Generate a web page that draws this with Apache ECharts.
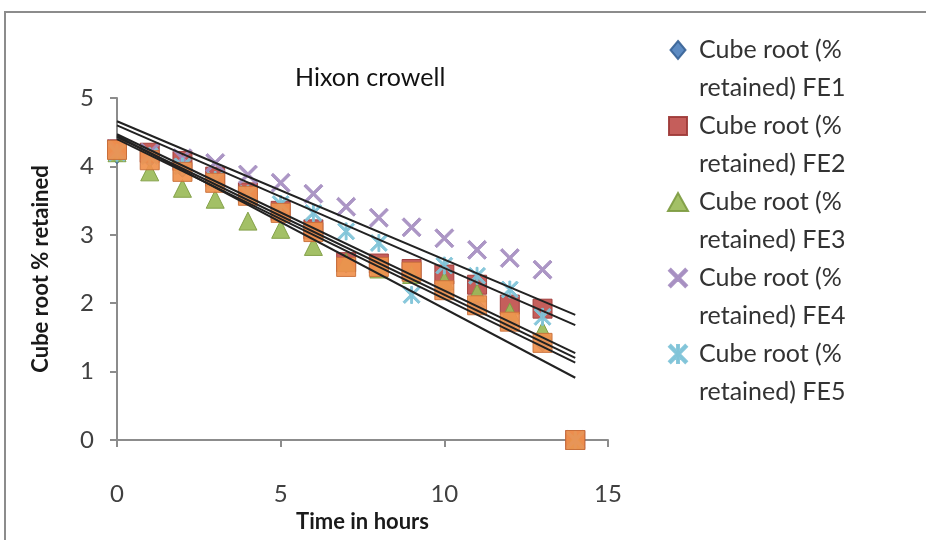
<!DOCTYPE html>
<html>
<head>
<meta charset="utf-8">
<script src="https://cdn.jsdelivr.net/npm/echarts@6/dist/echarts.min.js"></script>
<style>
html,body{margin:0;padding:0;background:#fff;}
#chart{width:926px;height:540px;}
</style>
</head>
<body>
<div id="chart"></div>
<script>
// ---- data ----
const hours = [0, 1, 2, 3, 4, 5, 6, 7, 8, 9, 10, 11, 12, 13, 14];
const fe1 = [4.15, 4.1, 3.95, 3.78, 3.55, 3.3, 3.0, 2.55, 2.5, 2.4, 2.2, 1.95, 1.7, 1.4, 0];
const fe2 = [4.25, 4.2, 4.08, 3.85, 3.62, 3.35, 3.08, 2.6, 2.58, 2.5, 2.42, 2.27, 1.98, 1.92, 0];
const fe3 = [4.2, 3.92, 3.68, 3.52, 3.2, 3.08, 2.83, 2.6, 2.5, 2.42, 2.33, 2.15, 1.87, 1.6, 0];
const fe4 = [4.25, 4.2, 4.12, 4.05, 3.88, 3.76, 3.6, 3.41, 3.25, 3.11, 2.95, 2.78, 2.66, 2.49, 0];
const fe5 = [4.2, 4.15, 4.0, 3.8, 3.6, 3.45, 3.32, 3.05, 2.88, 2.12, 2.55, 2.4, 2.2, 1.8, 0];
const fe6 = [4.24, 4.09, 3.92, 3.76, 3.57, 3.32, 3.04, 2.53, 2.53, 2.46, 2.19, 1.97, 1.73, 1.42, 0];
const seriesNames = [
  'Cube root (% retained) FE1',
  'Cube root (% retained) FE2',
  'Cube root (% retained) FE3',
  'Cube root (% retained) FE4',
  'Cube root (% retained) FE5',
  'Cube root (% retained) FE6'
];
// linear trendlines: value at x = trendX[0] and x = trendX[1]
const trendX = [0, 14];
const trendStart = [4.43, 4.6, 4.4, 4.66, 4.47, 4.45];
const trendEnd = [1.2, 1.68, 1.13, 1.83, 1.27, 0.91];
const xTicks = [0, 5, 10, 15];
const yTicks = [0, 1, 2, 3, 4, 5];

const FONT = 'Lato, "Open Sans", sans-serif';
const xPath = 'path://M0,1L1,0L5,4L9,0L10,1L6,5L10,9L9,10L5,6L1,10L0,9L4,5Z';
const starPath = 'path://M0,1L1,0L5,4L9,0L10,1L6,5L10,9L9,10L5,6L1,10L0,9L4,5ZM4.45,0L5.55,0L5.55,10L4.45,10Z';
const diamondPath = 'path://M5,0L10,6L5,12L0,6Z';
const rectPath = 'path://M0,0L10,0L10,10L0,10Z';
const triPath = 'path://M5,0L10,9L0,9Z';

const styles = [
  {symbol: 'diamond', icon: diamondPath, size: 15, color: '#4F81BD', border: '#3A6497'},
  {symbol: 'rect', icon: rectPath, size: 19, color: '#C0504D', border: '#9E3B38'},
  {symbol: 'triangle', icon: triPath, size: 18, color: '#9BBB59', border: '#7E9C42'},
  {symbol: xPath, icon: xPath, size: 19, color: '#A58DC0', border: '#A58DC0'},
  {symbol: starPath, icon: starPath, size: 17, color: '#7FC3D8', border: '#7FC3D8'},
  {symbol: 'rect', icon: rectPath, size: 19, color: '#F0914D', border: '#C9703A'}
];
const allData = [fe1, fe2, fe3, fe4, fe5, fe6];

const series = [];
allData.forEach((vals, i) => {
  series.push({
    name: seriesNames[i],
    type: 'scatter',
    symbol: styles[i].symbol,
    symbolSize: styles[i].size,
    itemStyle: {color: styles[i].color, borderColor: styles[i].border, borderWidth: 1, opacity: 0.92},
    z: 2 + i,
    data: hours.map((h, k) => [h, vals[k]])
  });
});
trendStart.forEach((s, i) => {
  series.push({
    name: 'Linear (' + seriesNames[i] + ')',
    type: 'line',
    symbol: 'none',
    silent: true,
    z: 20,
    lineStyle: {color: '#222222', width: 2},
    data: [[trendX[0], s], [trendX[1], trendEnd[i]]]
  });
});

const chart = echarts.init(document.getElementById('chart'), null, {renderer: 'canvas'});
chart.setOption({
  animation: false,
  backgroundColor: '#ffffff',
  title: {
    text: 'Hixon crowell',
    left: 290,
    top: 60,
    textStyle: {fontFamily: FONT, fontSize: 25, fontWeight: 'normal', color: '#111111'}
  },
  legend: {
    orient: 'vertical',
    left: 667,
    top: -7,
    padding: 0,
    itemWidth: 32,
    itemHeight: 18,
    itemGap: -38,
    symbolKeepAspect: true,
    data: seriesNames.slice(0, 5).map((n, i) => ({name: n, icon: styles[i].icon})),
    formatter: n => '\n' + n.replace(' retained', '\nretained'),
    textStyle: {fontFamily: FONT, fontSize: 25, lineHeight: 38, color: '#333333'}
  },
  grid: {left: 117, right: 318, top: 98, bottom: 100},
  xAxis: {
    type: 'value',
    min: xTicks[0],
    max: xTicks[xTicks.length - 1],
    interval: 5,
    name: 'Time in hours',
    nameLocation: 'middle',
    nameGap: 70,
    nameTextStyle: {fontFamily: FONT, fontSize: 22, fontWeight: 'bold', color: '#1a1a1a'},
    axisLine: {show: true, onZero: false, lineStyle: {color: '#8c8c8c', width: 2}},
    axisTick: {show: true, inside: false, length: 7, lineStyle: {color: '#8c8c8c', width: 2}},
    axisLabel: {margin: 42, fontFamily: FONT, fontSize: 24, color: '#404040'},
    splitLine: {show: false}
  },
  yAxis: {
    type: 'value',
    min: yTicks[0],
    max: yTicks[yTicks.length - 1],
    interval: 1,
    name: 'Cube root % retained',
    nameLocation: 'middle',
    nameGap: 65,
    nameTextStyle: {fontFamily: FONT, fontSize: 22, fontWeight: 'bold', color: '#1a1a1a'},
    axisLine: {show: true, lineStyle: {color: '#8c8c8c', width: 2}},
    axisTick: {show: true, inside: false, length: 7, lineStyle: {color: '#8c8c8c', width: 2}},
    axisLabel: {margin: 23, fontFamily: FONT, fontSize: 24, color: '#404040'},
    splitLine: {show: false}
  },
  graphic: [{
    type: 'rect',
    silent: true,
    z: 100,
    shape: {x: 5, y: 12, width: 960, height: 560},
    style: {fill: 'none', stroke: '#8c8c8c', lineWidth: 2}
  }],
  series: series
});
</script>
</body>
</html>
